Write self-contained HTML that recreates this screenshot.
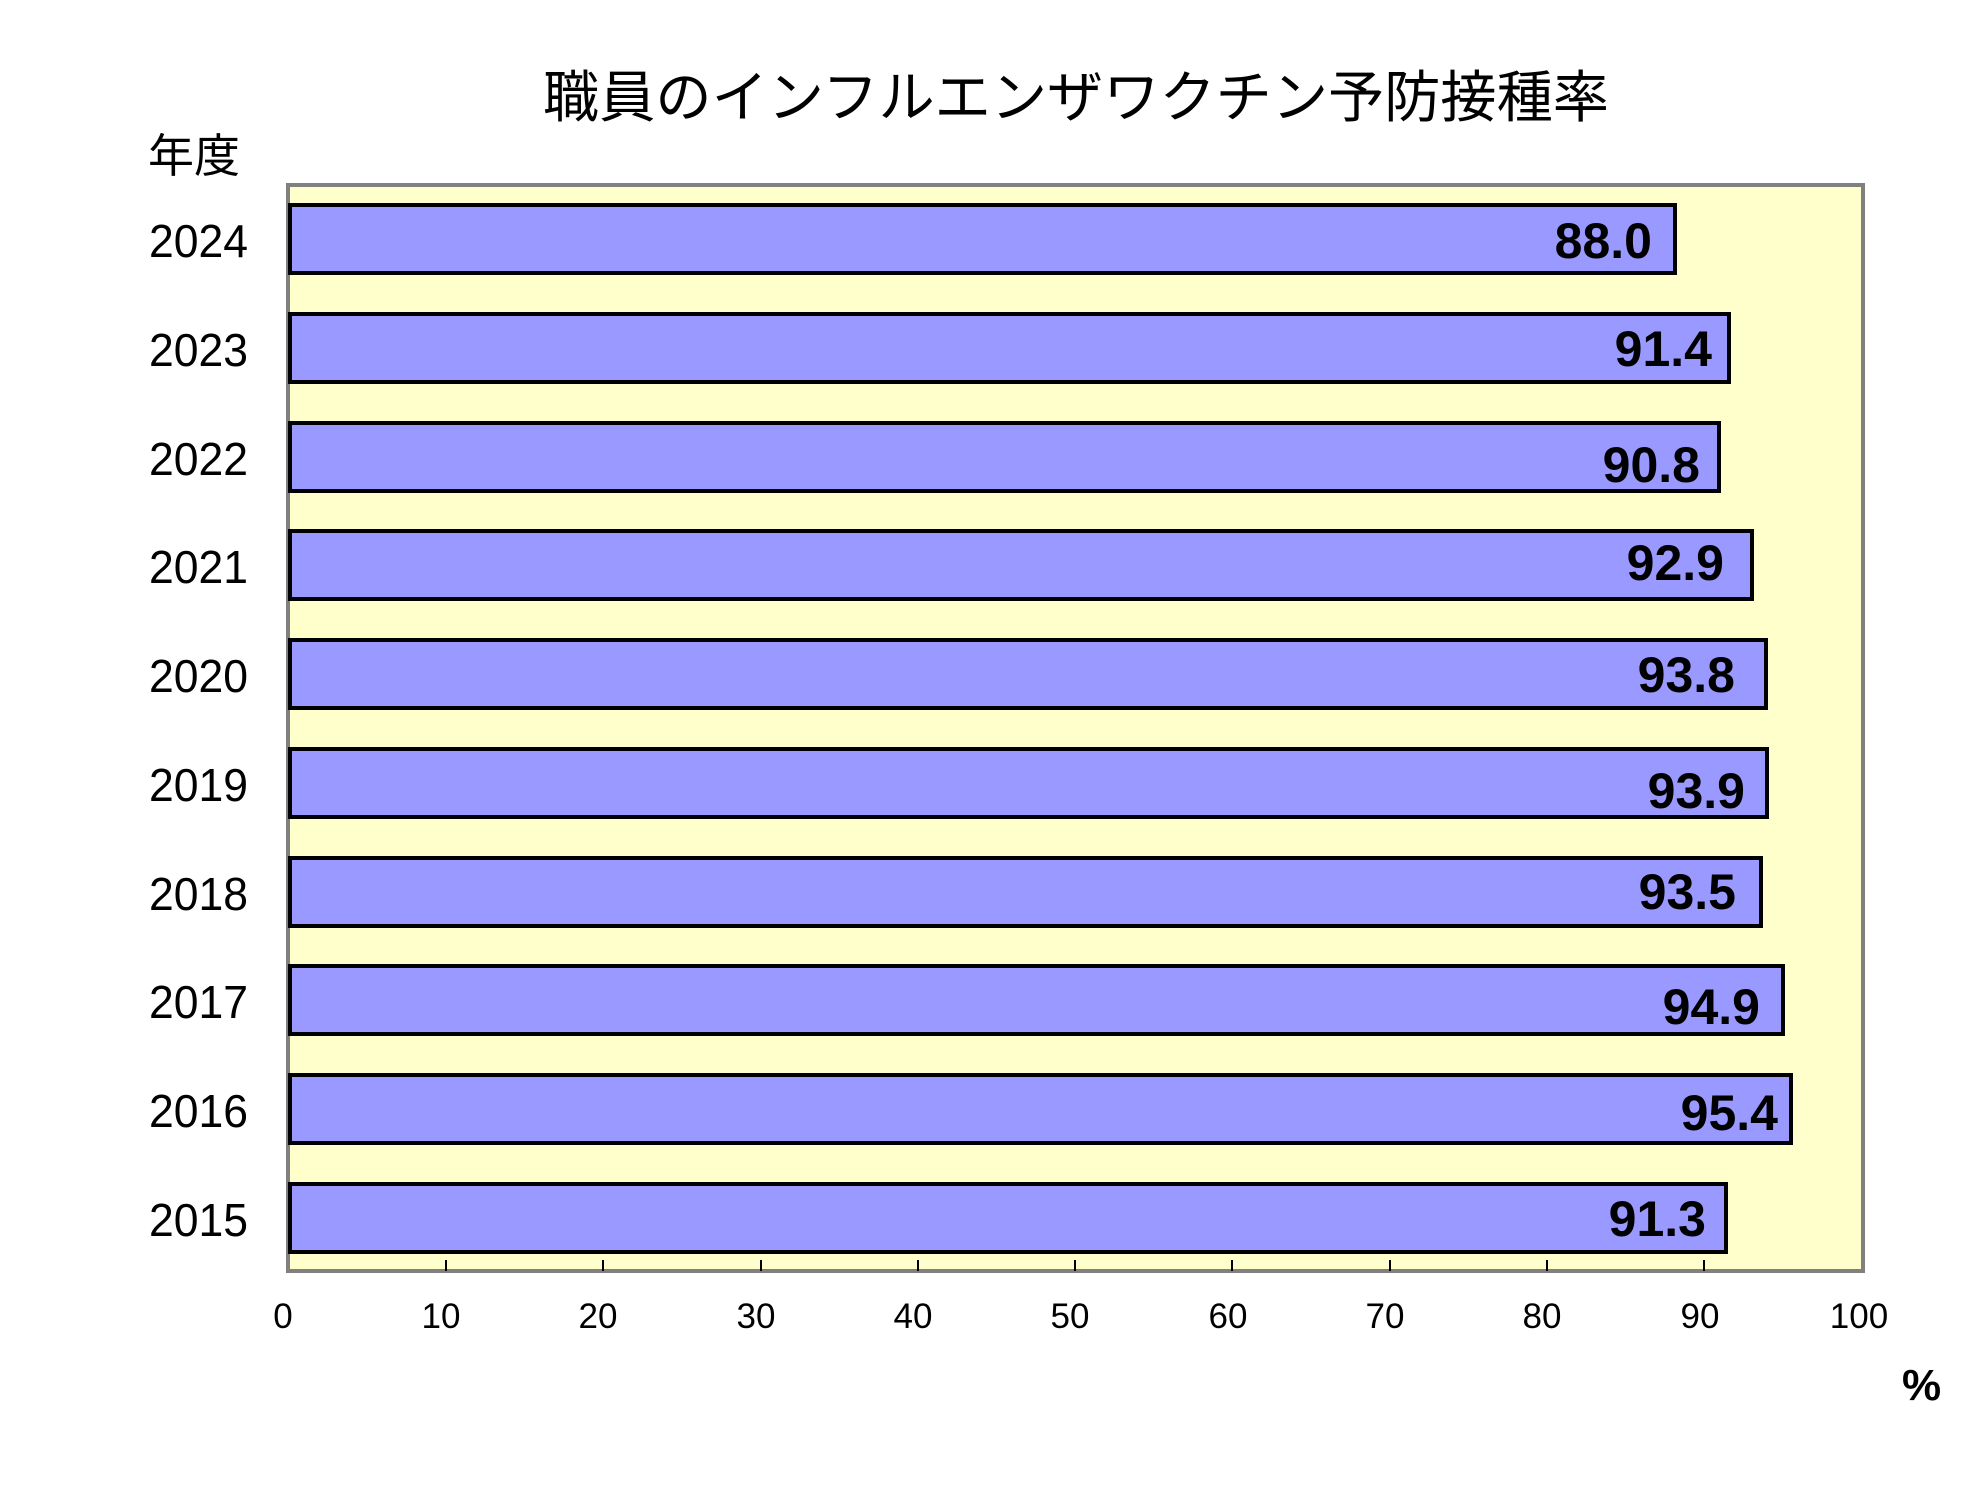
<!DOCTYPE html>
<html><head><meta charset="utf-8"><style>
html,body{margin:0;padding:0;background:#fff;}
svg{display:block;}
</style></head><body>
<svg width="1968" height="1491" viewBox="0 0 1968 1491" xmlns="http://www.w3.org/2000/svg">
<text x="1076" y="117" font-family="Liberation Sans, Noto Sans CJK JP, sans-serif" font-size="56" text-anchor="middle" textLength="1066" lengthAdjust="spacingAndGlyphs">職員のインフルエンザワクチン予防接種率</text>
<text x="148" y="172" font-family="Liberation Sans, Noto Sans CJK JP, sans-serif" font-size="46">年度</text>
<rect x="288" y="185" width="1574" height="1086" fill="#ffffcc"/>
<line x1="288" y1="185" x2="1864" y2="185" stroke="#808080" stroke-width="4"/>
<line x1="288" y1="183" x2="288" y2="1273" stroke="#808080" stroke-width="4"/>
<line x1="1863" y1="183" x2="1863" y2="1273" stroke="#808080" stroke-width="4"/>
<line x1="286" y1="1271" x2="1865" y2="1271" stroke="#808080" stroke-width="4"/>
<g stroke="#000" stroke-width="2">
<line x1="446" y1="1260" x2="446" y2="1271"/><line x1="603" y1="1260" x2="603" y2="1271"/>
<line x1="761" y1="1260" x2="761" y2="1271"/><line x1="918" y1="1260" x2="918" y2="1271"/>
<line x1="1075" y1="1260" x2="1075" y2="1271"/><line x1="1232" y1="1260" x2="1232" y2="1271"/>
<line x1="1390" y1="1260" x2="1390" y2="1271"/><line x1="1547" y1="1260" x2="1547" y2="1271"/>
<line x1="1704" y1="1260" x2="1704" y2="1271"/>
</g>
<g fill="#9999ff" stroke="#000" stroke-width="4">
<rect x="290" y="205" width="1385" height="68"/>
<rect x="290" y="314" width="1439" height="68"/>
<rect x="290" y="423" width="1429" height="68"/>
<rect x="290" y="531" width="1462" height="68"/>
<rect x="290" y="640" width="1476" height="68"/>
<rect x="290" y="749" width="1477" height="68"/>
<rect x="290" y="858" width="1471" height="68"/>
<rect x="290" y="966" width="1493" height="68"/>
<rect x="290" y="1075" width="1501" height="68"/>
<rect x="290" y="1184" width="1436" height="68"/>
</g>
<g font-family="Liberation Sans, sans-serif" font-size="50" font-weight="bold" text-anchor="end">
<text x="1652" y="258">88.0</text>
<text x="1712" y="366">91.4</text>
<text x="1700" y="482">90.8</text>
<text x="1724" y="580">92.9</text>
<text x="1735" y="692">93.8</text>
<text x="1745" y="808">93.9</text>
<text x="1736" y="909">93.5</text>
<text x="1760" y="1024">94.9</text>
<text x="1778" y="1130">95.4</text>
<text x="1706" y="1236">91.3</text>
</g>
<g font-family="Liberation Sans, sans-serif" font-size="46">
<text x="149" y="257" textLength="99" lengthAdjust="spacingAndGlyphs">2024</text>
<text x="149" y="366" textLength="99" lengthAdjust="spacingAndGlyphs">2023</text>
<text x="149" y="475" textLength="99" lengthAdjust="spacingAndGlyphs">2022</text>
<text x="149" y="583" textLength="99" lengthAdjust="spacingAndGlyphs">2021</text>
<text x="149" y="692" textLength="99" lengthAdjust="spacingAndGlyphs">2020</text>
<text x="149" y="801" textLength="99" lengthAdjust="spacingAndGlyphs">2019</text>
<text x="149" y="910" textLength="99" lengthAdjust="spacingAndGlyphs">2018</text>
<text x="149" y="1018" textLength="99" lengthAdjust="spacingAndGlyphs">2017</text>
<text x="149" y="1127" textLength="99" lengthAdjust="spacingAndGlyphs">2016</text>
<text x="149" y="1236" textLength="99" lengthAdjust="spacingAndGlyphs">2015</text>
</g>
<g font-family="Liberation Sans, sans-serif" font-size="35" text-anchor="middle">
<text x="283" y="1328">0</text><text x="441" y="1328">10</text><text x="598" y="1328">20</text>
<text x="756" y="1328">30</text><text x="913" y="1328">40</text><text x="1070" y="1328">50</text>
<text x="1228" y="1328">60</text><text x="1385" y="1328">70</text><text x="1542" y="1328">80</text>
<text x="1700" y="1328">90</text><text x="1859" y="1328">100</text>
</g>
<text x="1902" y="1400" font-family="Liberation Sans, sans-serif" font-size="44" font-weight="bold">%</text>
</svg>
</body></html>
